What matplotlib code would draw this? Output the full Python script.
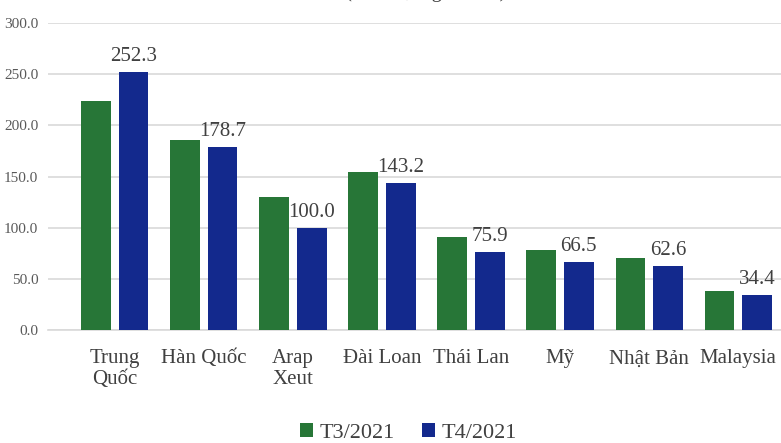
import numpy as np
import matplotlib.pyplot as plt

plt.rcParams['font.family'] = ['Liberation Serif', 'DejaVu Serif']

countries = ['Trung\nQuốc', 'Hàn Quốc', 'Arap\nXeut', 'Đài Loan', 'Thái Lan', 'Mỹ', 'Nhật Bản', 'Malaysia']
t3 = [223.5, 186.0, 130.0, 154.7, 90.9, 78.0, 70.5, 38.1]
t4 = [252.3, 178.7, 100.0, 143.2, 75.9, 66.5, 62.6, 34.4]
yticks = [0, 50, 100, 150, 200, 250, 300]

fig = plt.figure(figsize=(7.81, 4.43), dpi=100)
ax = fig.add_axes([48/781, 1 - 330/443, 733/781, 307/443])

x = np.arange(len(countries))
w = 0.335
ax.bar(x - 0.21, t3, w, color='#277637', label='T3/2021', zorder=3)
bars = ax.bar(x + 0.21, t4, w, color='#13298d', label='T4/2021', zorder=3)
for b, v in zip(bars, t4):
    ax.text(b.get_x() + b.get_width()/2, v + 6, f'{v:.1f}', ha='center', va='bottom',
            fontsize=15, color='#404040')

ax.set_ylim(0, 300)
ax.set_xlim(-0.75, 7.48)
ax.set_yticks(yticks)
ax.set_yticklabels([f'{t:.1f}' for t in yticks], fontsize=11, color='#595959')
ax.set_xticks(x)
ax.set_xticklabels(countries, fontsize=15, color='#404040', linespacing=1.1)
ax.tick_params(length=0, pad=14)
ax.tick_params(axis='y', pad=7)
ax.grid(axis='y', color='#d9d9d9', linewidth=1.2, zorder=0)
for s in ['top', 'right', 'left']:
    ax.spines[s].set_visible(False)
ax.spines['bottom'].set_color('#d9d9d9')
ax.spines['bottom'].set_linewidth(1.2)

fig.legend(loc='lower center', bbox_to_anchor=(0.523, -0.045), ncol=2, frameon=False,
           fontsize=16, handlelength=0.6, handleheight=0.6, handletextpad=0.3,
           columnspacing=1.2, labelcolor='#404040')

# title is cropped at the top edge in the source image
fig.text(0.545, 1.007, '(Đơn vị: nghìn tấn)', ha='center', va='baseline', fontsize=15,
         color='#404040')

fig.savefig('out.png', dpi=100)
